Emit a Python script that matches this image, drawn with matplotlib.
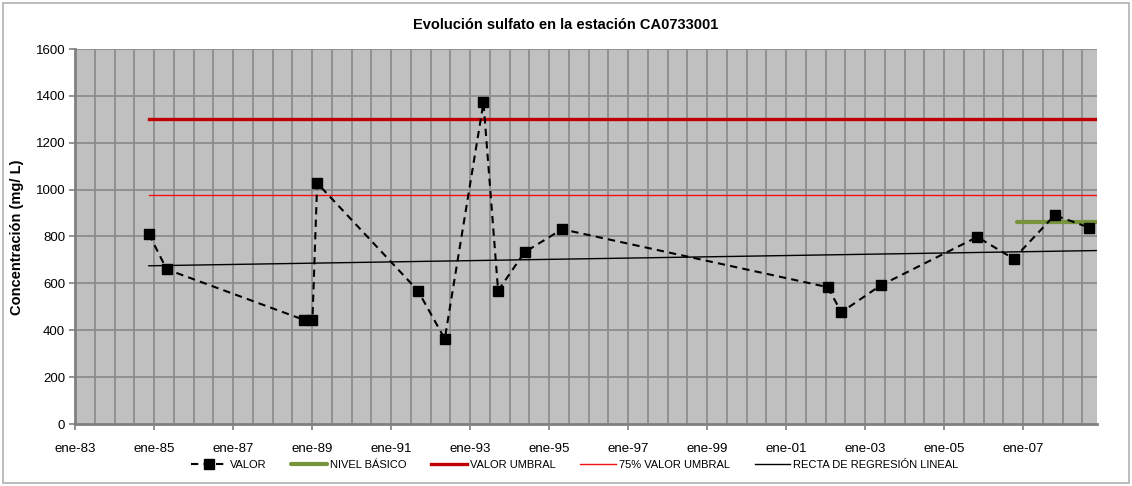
import matplotlib
matplotlib.use("Agg")
import matplotlib.pyplot as plt
from matplotlib.patches import Rectangle
import numpy as np

plt.rcParams['font.family'] = ['Liberation Sans', 'DejaVu Sans']

# Data (decimal years, mg/L)
valor_fechas = [1984.87, 1985.32, 1988.80, 1989.01, 1989.13, 1991.68, 1992.36,
                1993.34, 1993.71, 1994.38, 1995.33, 2002.05, 2002.40, 2003.39,
                2005.84, 2006.76, 2007.80, 2008.67]
valor = [811, 660, 444, 444, 1028, 569, 363, 1372, 569, 733, 831, 584, 477, 591,
         798, 705, 891, 838]

umbral_fechas = [1984.87, 2008.9]
umbral = [1300, 1300]
umbral75 = [975, 975]
nivel_fechas = [2006.84, 2008.9]
nivel_basico = [862, 862]
regresion_fechas = [1984.87, 2008.85]
regresion = [675, 740]

tick_years = list(range(1983, 2008, 2))
tick_labels = ["ene-%02d" % (y % 100) for y in tick_years]

W, H = 1132, 486
fig = plt.figure(figsize=(W / 100, H / 100), dpi=100)
fig.patch.set_facecolor('white')
fig.patches.append(Rectangle((3 / W, 3 / H), (W - 6) / W, (H - 6) / H,
                             transform=fig.transFigure, fill=False,
                             edgecolor='#B0B0B0', linewidth=1.2))

left, right, top, bottom = 75, 1097, 49, 424
ax = fig.add_axes([left / W, 1 - bottom / H, (right - left) / W, (bottom - top) / H])
ax.set_facecolor('#C0C0C0')
ax.set_xlim(1983.0, 2008.87)
ax.set_ylim(0, 1600)

# grid
for gx in np.arange(1983.5, 2008.87, 0.5):
    ax.axvline(gx, color='#8C8C8C', linewidth=1.3, zorder=1)
for gy in range(200, 1601, 200):
    ax.axhline(gy, color='#8C8C8C', linewidth=1.3, zorder=1)

ax.plot(regresion_fechas, regresion, color='black', linewidth=1.0, zorder=3,
        label='RECTA DE REGRESIÓN LINEAL')
ax.plot(umbral_fechas, umbral75, color='#F01010', linewidth=1.0, zorder=3,
        label='75% VALOR UMBRAL')
ax.plot(umbral_fechas, umbral, color='#C00000', linewidth=2.4, zorder=3,
        label='VALOR UMBRAL')
ax.plot(nivel_fechas, nivel_basico, color='#77933C', linewidth=3.0, zorder=3,
        solid_capstyle='round', label='NIVEL BÁSICO')
ax.plot(valor_fechas, valor, color='black', linestyle=(0, (3.5, 2.5)), linewidth=1.5,
        marker='s', markersize=6.5, markerfacecolor='black', markeredgecolor='black',
        zorder=4, label='VALOR')

for side in ['top', 'right']:
    ax.spines[side].set_visible(False)
for side in ['left', 'bottom']:
    ax.spines[side].set_color('#808080')
    ax.spines[side].set_linewidth(2)

ax.set_yticks(range(0, 1601, 200))
ax.set_xticks(tick_years)
ax.set_xticklabels(tick_labels)
ax.tick_params(axis='both', colors='#808080', labelcolor='black', labelsize=9.5,
               length=4, width=1.2)
ax.tick_params(axis='x', pad=10)
ax.tick_params(axis='y', pad=3)

fig.text(566 / W, 1 - 25 / H, 'Evolución sulfato en la estación CA0733001',
         ha='center', va='center', fontsize=10.5, fontweight='bold')
fig.text(17 / W, 1 - 237 / H, 'Concentración (mg/ L)', ha='center', va='center',
         rotation=90, fontsize=10.5, fontweight='bold')

handles, labels = ax.get_legend_handles_labels()
order = ['VALOR', 'NIVEL BÁSICO', 'VALOR UMBRAL', '75% VALOR UMBRAL', 'RECTA DE REGRESIÓN LINEAL']
hmap = dict(zip(labels, handles))
fig.legend([hmap[k] for k in order], order, loc='center',
           bbox_to_anchor=(575 / W, 1 - 465 / H), ncol=5, frameon=False,
           fontsize=8, handlelength=3.2, handletextpad=0.3, columnspacing=2.2)

fig.savefig('out.png', dpi=100)
